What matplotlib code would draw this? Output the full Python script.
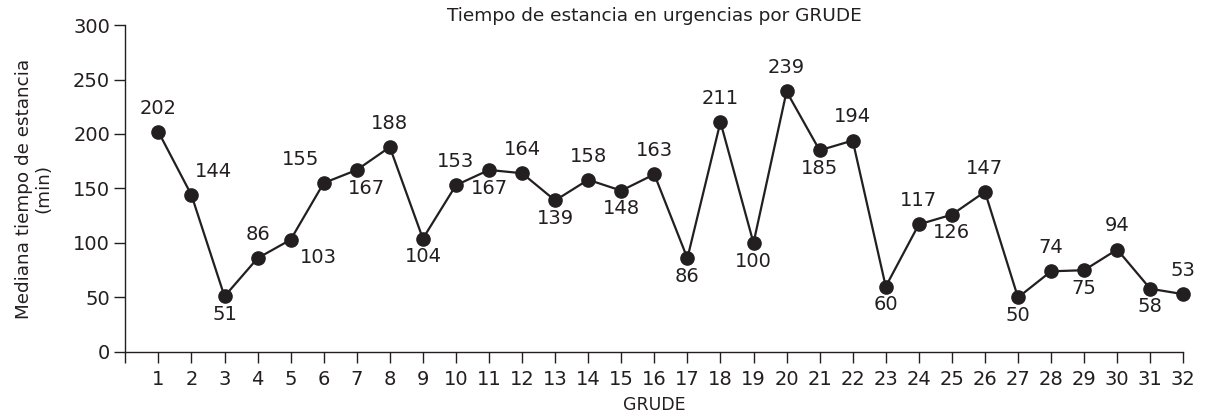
import matplotlib.pyplot as plt

# datos
grude = list(range(1, 33))
mediana = [202, 144, 51, 86, 103, 155, 167, 188, 104, 153, 167, 164, 139, 158, 148, 163,
           86, 211, 100, 239, 185, 194, 60, 117, 126, 147, 50, 74, 75, 94, 58, 53]
# posicion de la etiqueta: 'a' arriba, 'b' abajo
lado = ['a', 'a', 'b', 'a', 'b', 'a', 'b', 'a', 'b', 'a', 'b', 'a', 'b', 'a', 'b', 'a',
        'b', 'a', 'b', 'a', 'b', 'a', 'b', 'a', 'b', 'a', 'b', 'a', 'b', 'a', 'b', 'a']
# desplazamientos horizontales especiales (en puntos)
desp_x = {2: 16, 5: 20, 6: -17, 7: 7}

COLOR = '#231f20'
FONT = 'DejaVu Sans'

plt.rcParams['font.family'] = FONT

fig = plt.figure(figsize=(12.05, 4.17), dpi=100)
ax = fig.add_axes([0.104, 0.156, 0.878, 0.784])

ax.plot(grude, mediana, color=COLOR, lw=1.6, marker='o', ms=9.5, zorder=3)

for x, y, s in zip(grude, mediana, lado):
    dx = desp_x.get(x, 0)
    dy = 17 if s == 'a' else -13
    ax.annotate(str(y), (x, y), xytext=(dx, dy), textcoords='offset points',
                ha='center', va='center', fontsize=14, color=COLOR)

ax.set_xlim(0, 32)
ax.set_ylim(0, 300)
ax.set_xticks(range(0, 33))
ax.set_xticklabels([''] + [str(g) for g in grude])
ax.set_yticks(range(0, 301, 50))

for side in ['top', 'right']:
    ax.spines[side].set_visible(False)
for side in ['left', 'bottom']:
    ax.spines[side].set_color(COLOR)
    ax.spines[side].set_linewidth(1.0)
ax.tick_params(axis='both', colors=COLOR, labelsize=14, length=8, width=1.0, direction='out')
ax.tick_params(axis='x', pad=5)
ax.tick_params(axis='y', pad=3)

ax.set_title('Tiempo de estancia en urgencias por GRUDE', fontsize=13.3, color=COLOR, pad=3)
ax.set_xlabel('GRUDE', fontsize=12.5, color=COLOR, labelpad=5)
ax.set_ylabel('Mediana tiempo de estancia\n(min)', fontsize=13.2, color=COLOR,
              linespacing=1.1, labelpad=15)
for line in ax.lines:
    line.set_clip_on(False)

fig.savefig('out.png', dpi=100)
